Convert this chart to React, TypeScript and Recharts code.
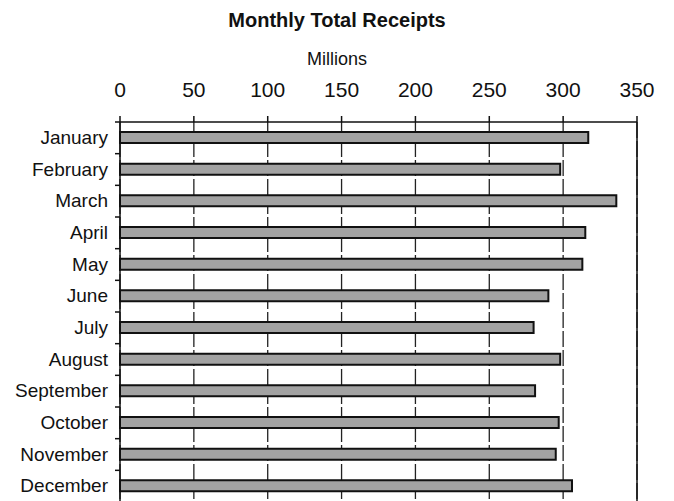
import { BarChart, Bar, XAxis, YAxis, CartesianGrid, ReferenceLine } from 'recharts';

const months = [
  'January', 'February', 'March', 'April', 'May', 'June',
  'July', 'August', 'September', 'October', 'November', 'December',
];
const receipts = [317, 298, 336, 315, 313, 290, 280, 298, 281, 297, 295, 306];
const valueTicks = [0, 50, 100, 150, 200, 250, 300, 350];

const data = months.map((month, i) => ({ month, receipts: receipts[i] }));

const BAND = 380 / 12;
const font = '"Liberation Sans", Arial, sans-serif';

function MonthTick(props: any) {
  const { x, y, payload } = props;
  return (
    <g>
      <line x1={x + 7} x2={x + 12} y1={y - BAND / 2} y2={y - BAND / 2} stroke="#111" strokeWidth={1.5} />
      <text x={x} y={y} dy={6} textAnchor="end" fontSize={19} fill="#111" fontFamily={font}>
        {payload.value}
      </text>
    </g>
  );
}

export default function App() {
  return (
    <div style={{ position: 'absolute', left: 0, top: 0, width: 674, height: 501, background: '#fff', overflow: 'hidden' }}>
      <svg width={674} height={80} style={{ position: 'absolute', left: 0, top: 0 }}>
        <text x={337} y={27} textAnchor="middle" fontSize={20} fontWeight="bold" fill="#111" fontFamily={font}>
          Monthly Total Receipts
        </text>
        <text x={337} y={65} textAnchor="middle" fontSize={18} fill="#111" fontFamily={font}>
          Millions
        </text>
      </svg>
      <BarChart
        width={674}
        height={502}
        data={data}
        layout="vertical"
        margin={{ top: 82, right: 37, bottom: 0, left: 0 }}
        barCategoryGap={0}
      >
        <CartesianGrid horizontal={false} stroke="#222" strokeWidth={1.3} strokeDasharray="16 3" />
        <XAxis
          type="number"
          orientation="top"
          domain={[0, 350]}
          ticks={valueTicks}
          height={40}
          tickSize={6}
          tickMargin={19}
          stroke="#111"
          strokeWidth={1.5}
          tick={{ fill: '#111', fontSize: 21, fontFamily: font }}
        />
        <YAxis
          type="category"
          dataKey="month"
          width={120}
          tickSize={5}
          tickMargin={7}
          tickLine={false}
          stroke="#111"
          strokeWidth={1.5}
          tick={<MonthTick />}
          interval={0}
        />
        <ReferenceLine x={350} stroke="#111" strokeWidth={1.5} />
        <Bar dataKey="receipts" fill="#a2a2a2" stroke="#111" strokeWidth={2} barSize={11} isAnimationActive={false} />
      </BarChart>
    </div>
  );
}
